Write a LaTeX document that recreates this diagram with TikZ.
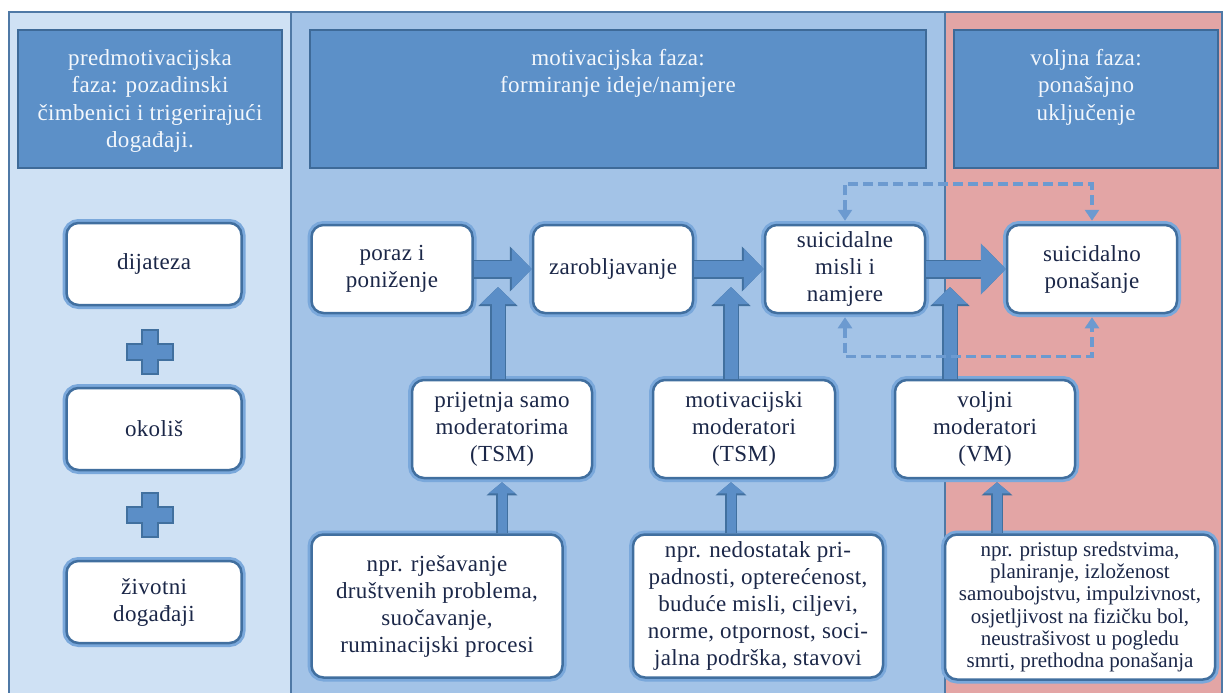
\documentclass[tikz,border=0pt]{standalone}
\usepackage{fontspec}
\setmainfont{Liberation Serif}
\newfontfamily\widefont[LetterSpace=1.5]{Liberation Serif}
\usetikzlibrary{arrows.meta}
\definecolor{panelleft}{HTML}{CFE1F4}
\definecolor{panelmid}{HTML}{A3C3E7}
\definecolor{panelright}{HTML}{E3A5A5}
\definecolor{panelline}{HTML}{4F79A6}
\definecolor{headfill}{HTML}{5C90C8}
\definecolor{headline}{HTML}{3E6A98}
\definecolor{headtext}{HTML}{F3F7FC}
\definecolor{boxline}{HTML}{416F9F}
\definecolor{boxglow}{HTML}{7AA8DB}
\definecolor{boxtext}{HTML}{1B2748}
\definecolor{arrowfill}{HTML}{5B8EC7}
\definecolor{arrowline}{HTML}{41709F}
\definecolor{dashcol}{HTML}{6C9AD0}
\tikzset{
  panel/.style={draw=panelline, line width=2pt},
  phasebox/.style={draw=headline, line width=2pt, fill=headfill, inner sep=0pt},
  phasetext/.style={text=headtext, align=center, inner sep=0pt,
    font=\widefont\fontsize{23}{27.5}\selectfont},
  stagebox/.style={draw=boxline, line width=2.5pt, fill=white, rounded corners=12pt,
    text=boxtext, align=center, inner sep=0pt,
    font=\widefont\fontsize{23}{27}\selectfont,
    preaction={draw=boxglow, line width=8pt}},
  flowarrow/.style={draw=arrowfill, line width=16pt, -{Triangle[width=40pt,length=20pt]},
    preaction={draw=arrowline, line width=19pt, -{Triangle[width=44pt,length=22pt]}}},
  uparrow/.style={draw=arrowfill, line width=13pt, -{Triangle[width=34pt,length=17pt]},
    preaction={draw=arrowline, line width=16pt, -{Triangle[width=38pt,length=19pt]}}},
  smallarrow/.style={draw=arrowfill, line width=9pt, -{Triangle[width=26pt,length=11pt]},
    preaction={draw=arrowline, line width=12pt, -{Triangle[width=30pt,length=13pt]}}},
  dasharrow/.style={draw=dashcol, line width=3.5pt, dash pattern=on 10pt off 5pt,
    {Triangle[width=14pt,length=11pt]}-{Triangle[width=14pt,length=11pt]},
    shorten <=3pt, shorten >=3pt},
  plussign/.pic={
    \draw[draw=arrowline, line width=1.5pt, fill=arrowfill]
      (-8,-22) -- (8,-22) -- (8,-8) -- (23,-8) -- (23,8) -- (8,8) -- (8,22)
      -- (-8,22) -- (-8,8) -- (-23,8) -- (-23,-8) -- (-8,-8) -- cycle;
  }
}
\begin{document}
\begin{tikzpicture}[x=1pt,y=-1pt]
\useasboundingbox[fill=white] (0,0) rectangle (1226,693);
% three phases
\fill[panelleft] (9,12) rectangle (291,700);
\fill[panelmid] (291,12) rectangle (945,700);
\fill[panelright] (945,12) rectangle (1222,700);
\draw[panel] (9,700) -- (9,12) -- (1222,12) -- (1222,700);
\draw[panel] (291,12) -- (291,700);
\draw[panel] (945,12) -- (945,700);
% phase headers
\node[phasebox, minimum width=264pt, minimum height=138pt] (hpre) at (150,99) {};
\node[phasebox, minimum width=616pt, minimum height=138pt] (hmot) at (618,99) {};
\node[phasebox, minimum width=264pt, minimum height=138pt] (hvol) at (1086,99) {};
\node[phasetext, anchor=north] (tpre) at ([yshift=-20pt]hpre.north)
  {predmotivacijska\\faza: pozadinski\\čimbenici i trigerirajući\\događaji.};
\node[phasetext, anchor=north] (tmot) at ([yshift=-20pt]hmot.north)
  {motivacijska faza:\\formiranje ideje/namjere};
\node[phasetext, anchor=north] (tvol) at ([yshift=-20pt]hvol.north)
  {voljna faza:\\ponašajno\\uključenje};
% background factors
\node[stagebox, minimum width=175pt, minimum height=82pt] (dij) at (154,264) {dijateza};
\node[stagebox, minimum width=175pt, minimum height=82pt] (oko) at (154,429) {okoliš};
\node[stagebox, minimum width=175pt, minimum height=82pt] (ziv) at (154,602) {životni\\događaji};
\pic at (150,352) {plussign};
\pic at (150,515) {plussign};
% main path
\node[stagebox, minimum width=161pt, minimum height=88pt] (por) at (392,269) {poraz i\\poniženje};
\node[stagebox, minimum width=160pt, minimum height=88pt] (zar) at (613,269) {zarobljavanje};
\node[stagebox, minimum width=160pt, minimum height=88pt] (mis) at (845,269) {suicidalne\\misli i\\namjere};
\node[stagebox, minimum width=170pt, minimum height=88pt] (pon) at (1092,269) {suicidalno\\ponašanje};
% moderators
\node[stagebox, minimum width=180pt, minimum height=98pt] (tsm) at (502,429) {prijetnja samo\\moderatorima\\(TSM)};
\node[stagebox, minimum width=182pt, minimum height=98pt] (mot) at (744,429) {motivacijski\\moderatori\\(TSM)};
\node[stagebox, minimum width=180pt, minimum height=98pt] (vm) at (985,429) {voljni\\moderatori\\(VM)};
% examples
\node[stagebox, minimum width=251pt, minimum height=143pt] (ex1) at (437,606)
  {npr. rješavanje\\društvenih problema,\\suočavanje,\\ruminacijski procesi};
\node[stagebox, minimum width=250pt, minimum height=143pt] (ex2) at (758,606)
  {npr. nedostatak pri-\\padnosti, opterećenost,\\buduće misli, ciljevi,\\norme, otpornost, soci-\\jalna podrška, stavovi};
\node[stagebox, minimum width=270pt, minimum height=145pt,
  font=\fontsize{21}{22.2}\selectfont] (ex3) at (1080,607)
  {npr. pristup sredstvima,\\planiranje, izloženost\\samoubojstvu, impulzivnost,\\osjetljivost na fizičku bol,\\neustrašivost u pogledu\\smrti, prethodna ponašanja};
% arrows
\coordinate (up1) at (498,287);
\coordinate (up2) at (731,287);
\coordinate (up3) at (950,287);
\draw[flowarrow] (por.east) -- (zar.west);
\draw[flowarrow] (zar.east) -- (mis.west);
\draw[flowarrow, -{Triangle[width=50pt,length=25pt]},
  preaction={-{Triangle[width=54pt,length=27pt]}}] (mis.east) -- (pon.west);
\draw[uparrow] (tsm.north -| up1) -- (up1);
\draw[uparrow] (mot.north -| up2) -- (up2);
\draw[uparrow] (vm.north -| up3) -- (up3);
\draw[smallarrow] (ex1.north -| tsm.south) -- ([yshift=-3pt]tsm.south);
\draw[smallarrow] (ex2.north -| up2) -- ([yshift=-3pt]mot.south -| up2);
\draw[smallarrow] ([xshift=12pt]ex3.north -| vm.south) -- ([xshift=12pt,yshift=-3pt]vm.south);
\draw[dasharrow] (mis.north) -- ++(0,-40) -| (pon.north);
\draw[dasharrow] (mis.south) -- ++(0,42) -| (pon.south);
\end{tikzpicture}
\end{document}
